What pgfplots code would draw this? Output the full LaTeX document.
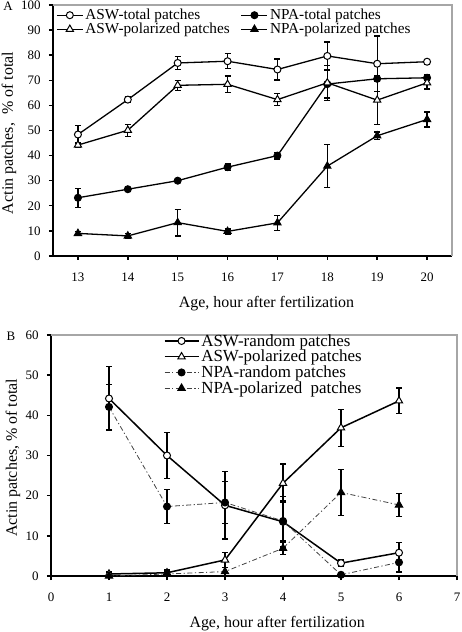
\documentclass[border=0pt]{standalone}
\usepackage{pgfplots}
\pgfplotsset{compat=1.18}
\usepackage{fontspec}
\setmainfont{Liberation Serif}
\begin{document}
\begin{tikzpicture}
\useasboundingbox (0bp,0bp) rectangle (462bp,632bp);
\pgfplotsset{
  myax/.style={
    scale only axis, clip=false,
    axis x line*=bottom, axis y line*=left,
    axis line style={-, line width=1.1bp, black},
    tick align=outside,
    major tick length=4bp,
    tick style={line width=1.4bp, black},
    /pgf/number format/assume math mode=true,
    ticklabel style={font=\fontsize{13}{13}\selectfont},
    xticklabel style={anchor=center, yshift=-17bp},
    yticklabel style={anchor=east, xshift=-5bp},
    legend cell align=left,
    every axis plot/.append style={line width=1.3bp, black},
    error bars/error bar style={line width=1.3bp, black, solid},
    error bars/error mark options={rotate=90, mark size=3bp, line width=1.3bp, black, solid},
  },
  emptyc/.style={mark=*, mark size=3.5bp, mark options={solid, fill=white, draw=black, line width=1bp}},
  fullc/.style={mark=*, mark size=3.5bp, mark options={solid, fill=black, draw=black, line width=1bp}},
  emptyt/.style={mark=triangle*, mark size=4.2bp, mark options={solid, fill=white, draw=black, line width=1bp}},
  fullt/.style={mark=triangle*, mark size=4.2bp, mark options={solid, fill=black, draw=black, line width=1bp}},
}
% ---------- Panel A ----------
\begin{axis}[myax,
  at={(53bp,376bp)}, anchor=south west,
  width=399bp, height=251bp,
  xmin=12.5, xmax=20.5, ymin=0, ymax=100,
  xtick={13,...,20}, ytick={0,10,...,100},
  xlabel={Age, hour after fertilization},
  ylabel={Actin patches,\ \ \% of total},
  every axis x label/.style={at={(axis description cs:0.535,0)}, anchor=center, yshift=-48bp, font=\fontsize{16}{16}\selectfont},
  every axis y label/.style={at={(axis description cs:0,0.49)}, xshift=-44bp, anchor=center, rotate=90, font=\fontsize{16}{16}\selectfont},
  legend columns=2,
  legend style={draw=none, fill=none, at={(axis description cs:0.0,1)}, anchor=north west,
    font=\fontsize{15.3}{15.3}\selectfont, row sep=-2bp,
    /tikz/every even column/.append style={column sep=9bp}},
  legend image code/.code={\draw[mark repeat=2,mark phase=2,#1] plot coordinates {(0bp,0bp) (13bp,0bp) (26bp,0bp)};},
]
\draw[gray!70, line width=1.3bp] (rel axis cs:0,1) -- (rel axis cs:1,1) -- (rel axis cs:1,0);
\addplot[emptyc, error bars/.cd, y dir=both, y explicit] table[x=x, y=y, y error=e] {
x y e
13 48.4 3.7
14 62.3 1.0
15 76.9 2.7
16 77.6 3.0
17 74.3 4.2
18 79.7 5.6
19 76.6 11.0
20 77.4 1.0
};
\addlegendentry{ASW-total patches}
\addplot[fullc, error bars/.cd, y dir=both, y explicit] table[x=x, y=y, y error=e] {
x y e
13 23.2 3.8
14 26.6 0.8
15 30.0 0.7
16 35.4 1.2
17 40.0 1.3
18 68.5 5.5
19 70.6 1.2
20 71.0 1.2
};
\addlegendentry{NPA-total patches}
\addplot[emptyt, error bars/.cd, y dir=both, y explicit] table[x=x, y=y, y error=e] {
x y e
13 44.2 1.0
14 50.1 2.4
15 68.0 2.0
16 68.4 3.3
17 62.3 2.4
18 69.0 7.0
19 62.1 9.7
20 69.0 2.5
};
\addlegendentry{ASW-polarized patches}
\addplot[fullt, error bars/.cd, y dir=both, y explicit] table[x=x, y=y, y error=e] {
x y e
13 9.0 0.8
14 8.0 1.0
15 13.3 5.3
16 9.8 1.0
17 13.2 3.0
18 35.8 8.6
19 47.9 1.5
20 54.4 3.0
};
\addlegendentry{NPA-polarized patches}
\end{axis}
\node[font=\fontsize{13}{13}\selectfont] at (8bp,626bp) {A};
% ---------- Panel B ----------
\begin{axis}[myax,
  at={(51bp,56bp)}, anchor=south west,
  width=406bp, height=241bp,
  xmin=0, xmax=7, ymin=0, ymax=60,
  xtick={0,...,7}, ytick={0,10,...,60},
  xlabel={Age, hour after fertilization},
  ylabel={Actin patches, \% of total},
  every axis x label/.style={at={(axis description cs:0.557,0)}, anchor=center, yshift=-48bp, font=\fontsize{16}{16}\selectfont},
  every axis y label/.style={at={(axis description cs:0,0.49)}, xshift=-38bp, anchor=center, rotate=90, font=\fontsize{16}{16}\selectfont},
  legend style={draw=none, fill=none, at={(axis description cs:0.27,1.02)}, anchor=north west,
    font=\fontsize{17}{17}\selectfont, row sep=-1.5bp},
  legend image code/.code={\draw[mark repeat=2,mark phase=2,#1] plot coordinates {(0bp,0bp) (17bp,0bp) (34bp,0bp)};},
]
\draw[gray!70, line width=1.3bp] (rel axis cs:0,1) -- (rel axis cs:1,1) -- (rel axis cs:1,0);
\addplot[emptyc, line width=1.5bp, error bars/.cd, y dir=both, y explicit] table[x=x, y=y, y error=e] {
x y e
1 44.2 7.9
2 30.0 5.8
3 17.6 8.4
4 13.5 6.3
5 3.2 0.8
6 5.8 2.5
};
\addlegendentry{ASW-random patches}
\addplot[emptyt, line width=1.5bp, error bars/.cd, y dir=both, y explicit] table[x=x, y=y, y error=e] {
x y e
1 0.5 0.5
2 0.8 0.7
3 4.0 1.9
4 23.1 4.8
5 36.9 4.6
6 43.6 3.2
};
\addlegendentry{ASW-polarized patches}
\addplot[fullc, line width=0.8bp, black!75, dash pattern=on 5bp off 2.5bp on 1.2bp off 2.5bp, error bars/.cd, y dir=both, y explicit] table[x=x, y=y, y error=e] {
x y e
1 42.1 5.6
2 17.3 4.2
3 18.3 5.3
4 13.7 5.0
5 0.3 0.3
6 3.4 2.4
};
\addlegendentry{NPA-random patches}
\addplot[fullt, line width=0.8bp, black!75, dash pattern=on 5bp off 2.5bp on 1.2bp off 2.5bp, error bars/.cd, y dir=both, y explicit] table[x=x, y=y, y error=e] {
x y e
1 0.0 0.3
2 0.5 0.7
3 1.1 1.0
4 6.9 1.5
5 20.8 5.7
6 17.7 2.9
};
\addlegendentry{NPA-polarized\ \ patches}
\end{axis}
\node[font=\fontsize{13}{13}\selectfont] at (11bp,296bp) {B};
\end{tikzpicture}
\end{document}
